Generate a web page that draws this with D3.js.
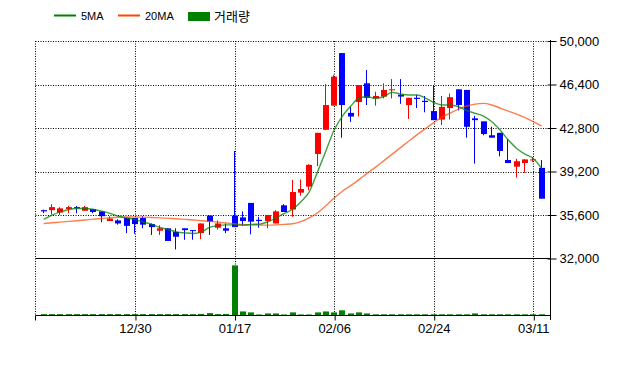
<!DOCTYPE html>
<html>
    <head>
        <meta charset="utf-8">
        <title>Candle chart</title>
        <script src="https://d3js.org/d3.v7.min.js"></script>
        <style>
            html, body {
                margin: 0;
                padding: 0;
                background: #fff;
                overflow: hidden;
            }
            svg text {
                font-family: "Liberation Sans", Arial, sans-serif;
                fill: #000;
            }
        </style>
    </head>
    <body>
        <svg id="chart" width="640" height="368"></svg>
        <script>
            const dates = ['12/12','12/13','12/16','12/17','12/18','12/19','12/20','12/23','12/24','12/26',
                '12/27','12/30','01/02','01/03','01/06','01/07','01/08','01/09','01/10','01/13',
                '01/14','01/15','01/16','01/17','01/20','01/21','01/22','01/23','01/28','01/29',
                '01/30','01/31','02/03','02/04','02/05','02/06','02/07','02/10','02/11','02/12',
                '02/13','02/14','02/17','02/18','02/19','02/20','02/21','02/24','02/25','02/26',
                '02/27','02/28','03/02','03/03','03/04','03/05','03/06','03/09','03/10','03/11',
                '03/12'];
            const open = [36000,36000,35800,36100,36250,35950,36100,35900,35100,35150,
                35350,35350,35350,34850,34300,34500,34200,34500,34350,34100,
                35550,34550,34500,35550,35400,36600,35200,35100,34900,36400,
                36050,37450,37950,40650,42650,44650,49000,44050,44950,46500,
                45250,45400,45950,45550,44700,45300,45050,44200,43500,44450,
                46000,45950,43600,43350,42200,42400,40150,39600,39900,40150,
                39500];
            const high = [36050,36500,36250,36350,36350,36350,36100,35900,35500,35250,
                35350,35350,35500,34900,34750,34500,34500,34500,34350,34900,
                35550,35150,34900,40900,35900,36600,35450,35600,36000,36500,
                38500,38550,39800,42400,46450,47200,49000,44550,46350,47600,
                45800,46500,46850,46850,45300,45550,45450,46350,45450,45650,
                46000,45950,43800,43350,42900,42400,41850,40250,40200,40400,
                40150];
            const low = [35750,35650,35600,35750,35750,35950,35750,35000,35100,34800,
                34100,34050,34500,33950,33950,33450,32750,33550,33550,33600,
                33950,34400,34100,34600,34700,34000,34550,34500,34900,35850,
                35450,37200,37650,39650,42650,44650,42000,43300,43750,44700,
                44650,45250,45250,44800,43550,44450,44100,43450,43050,43500,
                44250,42000,39850,42200,42000,40450,39900,38700,39100,40000,
                36950];
            const close = [35900,36250,36150,36250,36150,36250,35850,35500,35300,34900,
                34700,34850,34800,34600,34500,33450,33800,34350,34300,34900,
                35050,34900,34300,34600,35100,35050,35100,35600,35900,35850,
                37500,37750,39750,42400,44700,47050,44700,43750,46350,45300,
                45450,45950,46000,45400,45300,45200,44950,43450,44550,45350,
                44700,42900,43450,42300,42000,40900,39900,40050,40200,40200,
                36950];
            // volume, thousands of shares
            const volume = [80,80,80,80,80,80,80,80,80,80,
                80,80,80,80,80,80,80,80,80,90,
                140,80,90,2900,235,180,60,120,120,60,
                180,60,60,180,235,180,300,120,180,120,
                70,70,70,70,70,70,70,70,70,70,
                70,70,120,70,70,70,70,70,70,70,
                70];
            const ma5 = [35230,35590,35860,36060,36140,36140,36060,35920,35730,35500,
                35360,35230,35010,34840,34570,34400,34200,34120,34070,34200,
                34570,34730,34780,34780,34760,34820,34840,35030,35360,35730,
                36080,36690,37520,39170,40890,42630,43790,44620,45280,45390,
                45250,45400,45750,45610,45530,45530,45280,44910,44700,44700,
                44560,44230,44010,43790,43320,42630,41800,41110,40640,40280,
                39460];
            const ma20 = [34900,34960,35010,35070,35130,35190,35260,35310,35370,35410,
                35440,35440,35420,35390,35360,35320,35290,35240,35190,35130,
                35070,35010,34940,34870,34800,34760,34760,34760,34780,34820,
                34880,35050,35360,35790,36370,37000,37570,38030,38530,39070,
                39560,40100,40640,41180,41720,42250,42750,43250,43700,44040,
                44370,44620,44780,44840,44700,44450,44200,43950,43660,43330,
                42960];
            const priceTicks = [32000, 35600, 39200, 42800, 46400, 50000];
            const dateTicks = ['12/30', '01/17', '02/06', '02/24', '03/11'];

            const plotLeft = 35.5, plotRight = 550.5, plotTop = 41, priceBottom = 258.5, volBottom = 315.5;
            const upColor = '#ff0000', downColor = '#0000ff';

            const svg = d3.select('#chart');

            const x = d3.scalePoint()
                .domain(dates)
                .range([43.7, 541.6]);
            const y = d3.scaleLinear()
                .domain([32000, 50000])
                .range([priceBottom, plotTop]);
            const yVol = d3.scaleLinear()
                .domain([0, 3300])
                .range([volBottom, priceBottom]);

            const candles = dates.map((d, i) => ({
                date: d, o: open[i], h: high[i], l: low[i], c: close[i], v: volume[i]
            }));

            // grid
            const grid = svg.append('g')
                .attr('stroke', '#000')
                .attr('stroke-width', 1)
                .attr('stroke-dasharray', '1,1.5');
            grid.selectAll('line.h')
                .data(priceTicks.filter(t => t !== 32000))
                .join('line')
                .attr('class', 'h')
                .attr('x1', plotLeft).attr('x2', plotRight - 3)
                .attr('y1', d => Math.round(y(d)) + 0.5)
                .attr('y2', d => Math.round(y(d)) + 0.5);
            grid.selectAll('line.v')
                .data(dateTicks)
                .join('line')
                .attr('class', 'v')
                .attr('x1', d => Math.round(x(d)) + 0.5)
                .attr('x2', d => Math.round(x(d)) + 0.5)
                .attr('y1', plotTop).attr('y2', volBottom);
            grid.append('line')
                .attr('x1', plotLeft).attr('x2', plotLeft)
                .attr('y1', plotTop).attr('y2', volBottom);

            // volume
            svg.append('g')
                .selectAll('rect')
                .data(candles)
                .join('rect')
                .attr('x', d => Math.round(x(d.date)) - 3)
                .attr('width', 6)
                .attr('y', d => yVol(d.v))
                .attr('height', d => volBottom - yVol(d.v))
                .attr('fill', '#008000');

            // candles
            const cg = svg.append('g')
                .selectAll('g')
                .data(candles)
                .join('g')
                .attr('fill', d => d.c >= d.o ? upColor : downColor)
                .attr('stroke', d => d.c >= d.o ? upColor : downColor);
            cg.append('line')
                .attr('x1', d => Math.round(x(d.date)) - 0.5)
                .attr('x2', d => Math.round(x(d.date)) - 0.5)
                .attr('y1', d => y(d.h))
                .attr('y2', d => y(d.l))
                .attr('stroke-width', 1);
            cg.append('rect')
                .attr('stroke', 'none')
                .attr('x', d => Math.round(x(d.date)) - 3)
                .attr('width', 6)
                .attr('y', d => y(Math.max(d.o, d.c)))
                .attr('height', d => Math.max(1, y(Math.min(d.o, d.c)) - y(Math.max(d.o, d.c))));

            // moving averages
            const line = d3.line()
                .x((d, i) => x(dates[i]))
                .y(d => y(d))
                .curve(d3.curveMonotoneX);
            svg.append('path')
                .attr('d', line(ma20))
                .attr('fill', 'none')
                .attr('stroke', '#ff4500')
                .attr('stroke-opacity', 0.7)
                .attr('stroke-width', 1.4);
            svg.append('path')
                .attr('d', line(ma5))
                .attr('fill', 'none')
                .attr('stroke', '#008000')
                .attr('stroke-opacity', 0.75)
                .attr('stroke-width', 1.4);

            // frame
            svg.append('line')
                .attr('x1', plotLeft).attr('x2', plotRight)
                .attr('y1', priceBottom).attr('y2', priceBottom)
                .attr('stroke', '#000');
            svg.append('line')
                .attr('x1', plotLeft).attr('x2', plotRight)
                .attr('y1', volBottom).attr('y2', volBottom)
                .attr('stroke', '#000');
            svg.append('line')
                .attr('x1', plotRight).attr('x2', plotRight)
                .attr('y1', 40).attr('y2', 320)
                .attr('stroke', '#000');

            // axes
            const yAxis = svg.append('g')
                .attr('transform', `translate(${plotRight},0)`)
                .call(d3.axisRight(y)
                    .tickValues(priceTicks)
                    .tickFormat(d3.format(','))
                    .tickSize(6)
                    .tickPadding(3));
            yAxis.select('.domain').remove();
            yAxis.selectAll('.tick line').attr('x1', -3);
            yAxis.selectAll('text')
                .style('font-size', '13px')
                .attr('fill', '#000');

            const xAxis = svg.append('g')
                .attr('transform', `translate(0,${volBottom})`)
                .call(d3.axisBottom(x)
                    .tickValues(dateTicks)
                    .tickSize(5)
                    .tickPadding(3));
            xAxis.select('.domain').remove();
            xAxis.selectAll('.tick line')
                .attr('transform', 'translate(0.5,0)');
            xAxis.selectAll('text')
                .style('font-size', '13px')
                .attr('fill', '#000');
            svg.append('line')
                .attr('x1', plotLeft).attr('x2', plotLeft)
                .attr('y1', volBottom).attr('y2', volBottom + 5)
                .attr('stroke', '#000');

            // legend
            const legend = svg.append('g');
            legend.append('line')
                .attr('x1', 54).attr('x2', 76).attr('y1', 15.5).attr('y2', 15.5)
                .attr('stroke', '#008000').attr('stroke-width', 2);
            legend.append('text')
                .attr('x', 81).attr('y', 20)
                .style('font-size', '11px')
                .text('5MA');
            legend.append('line')
                .attr('x1', 118).attr('x2', 140).attr('y1', 15.5).attr('y2', 15.5)
                .attr('stroke', '#ff4500').attr('stroke-width', 2);
            legend.append('text')
                .attr('x', 145).attr('y', 20)
                .style('font-size', '11px')
                .text('20MA');
            legend.append('rect')
                .attr('x', 188).attr('y', 12).attr('width', 22).attr('height', 9)
                .attr('fill', '#008000');
            legend.append('text')
                .attr('x', 214).attr('y', 21)
                .style('font-family', '"Noto Sans CJK KR", sans-serif')
                .style('font-size', '13px')
                .text('거래량');
        </script>
    </body>
</html>
